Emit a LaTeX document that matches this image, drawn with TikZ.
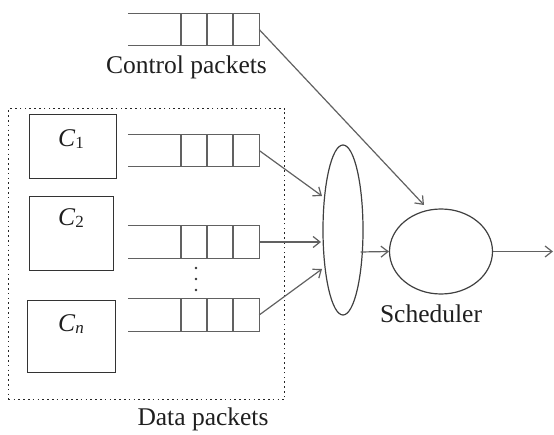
\documentclass[tikz,border=0pt]{standalone}
\usepackage{fontspec}
\setmainfont{Liberation Serif}
\usetikzlibrary{arrows.meta,shapes.geometric}
\begin{document}
\begin{tikzpicture}[x=1pt,y=-1pt,
  ln/.style={draw=black!62,line width=1.2pt},
  cbox/.style={draw=black!80,line width=1.3pt,inner sep=0pt},
  qslot/.style={draw=none,minimum width=131pt,minimum height=32pt,inner sep=0pt},
  lbl/.style={font=\fontsize{25.5}{28}\selectfont,text=black!88},
  arr/.style={ln,-{Straight Barb[length=7pt,width=11pt]}},
  every node/.style={inner sep=0pt}]
\useasboundingbox (0,0) rectangle (554,435);
% queue drawing
\newcommand{\queue}[2]{%
  \node[qslot] (#1) at (193.5,#2) {};
  \draw[ln] (#1.north west) -- (#1.north east) -- (#1.south east) -- (#1.south west);
  \foreach \xx in {181,207,233} \draw[ln] (\xx,#2-16) -- (\xx,#2+16);
}
\queue{qc}{29.5}
\node[lbl,anchor=base] (lc) at (186.5,74) {Control packets};
% dotted data box
\node[draw=black!85,line width=1.4pt,dash pattern=on 1.6pt off 3.2pt,minimum width=276pt,minimum height=291pt,anchor=north west] (db) at (8,108) {};
\node[lbl,anchor=base] (ld) at (203,425) {Data packets};
% classes
\node[cbox,anchor=north west,minimum width=87pt,minimum height=64pt] (c1) at (29,114) {};
\node[lbl,anchor=base] at (71,147) {\textit{C}\raisebox{-2pt}{\fontsize{17}{18}\selectfont 1}};
\node[cbox,anchor=north west,minimum width=84pt,minimum height=74pt] (c2) at (29,196) {};
\node[lbl,anchor=base] at (71,226) {\textit{C}\raisebox{-2pt}{\fontsize{17}{18}\selectfont 2}};
\node[cbox,anchor=north west,minimum width=88pt,minimum height=72pt] (cn) at (27,300) {};
\node[lbl,anchor=base] at (71,332) {\textit{C}\raisebox{-2pt}{\fontsize{17}{18}\selectfont\textit{n}}};
% data queues
\queue{q1}{150.5}
\queue{q2}{242}
\queue{qn}{315}
\foreach \yy in {268,279,290} \fill[black!80] (196,\yy) circle (1.4pt);
% ellipses
\node[draw=black!75,line width=1.2pt,ellipse,minimum width=40pt,minimum height=170pt] (mux) at (343,230) {};
\node[draw=black!75,line width=1.2pt,ellipse,minimum width=103pt,minimum height=85pt] (sch) at (441,251.5) {};
\node[lbl,anchor=base] (ls) at (431,323) {Scheduler};
\coordinate (out) at (553,251.5);
% connectors
\draw[arr] (qc.east) -- (424,205);
\draw[arr] (q1.east) -- (322,196);
\draw[arr] (q2.east) -- (321,242);
\draw[arr] (qn.east) -- (322,269);
\draw[arr] (mux.east) ++(-3,22) -- (sch.west);
\draw[arr] (sch.east) -- (out);
\end{tikzpicture}
\end{document}
